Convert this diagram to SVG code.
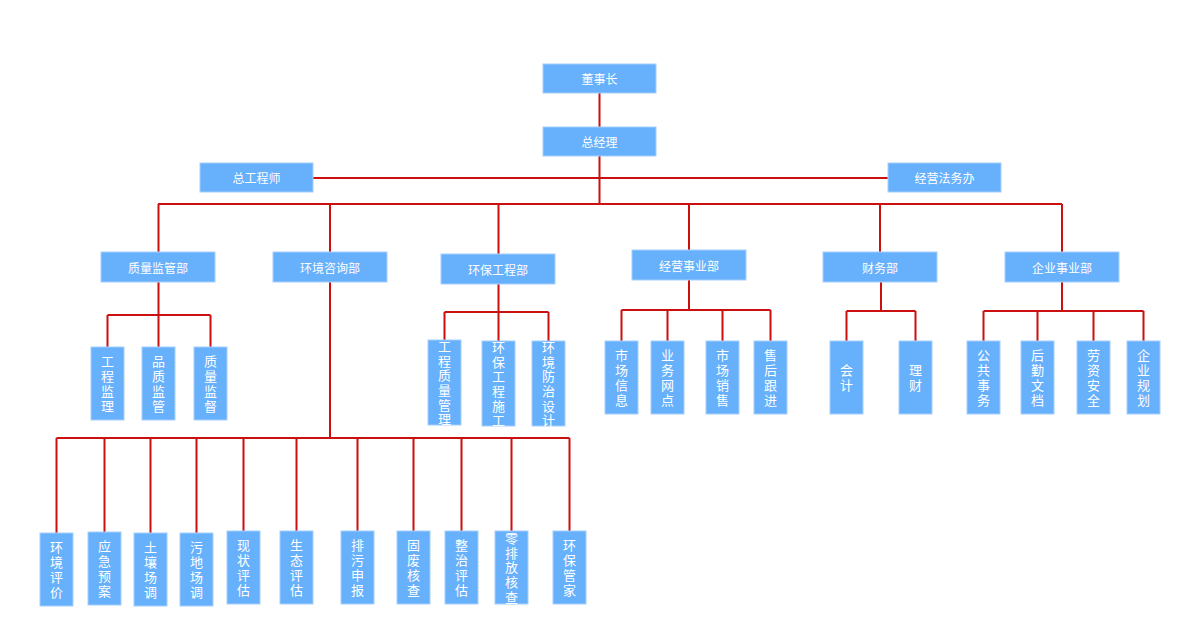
<svg xmlns="http://www.w3.org/2000/svg" width="1200" height="635" viewBox="0 0 1200 635">
<style>
.b{fill:#66b0fc;stroke:#a6d0fb;stroke-width:1}
.t{fill:#ffffff;font-family:"Noto Sans CJK SC","Noto Sans",sans-serif;font-size:12px;text-anchor:middle;dominant-baseline:central}
.v{fill:#ffffff;font-family:"Noto Sans CJK SC","Noto Sans",sans-serif;font-size:13px;text-anchor:middle;writing-mode:vertical-rl;letter-spacing:1.7px}
.c{fill:none;stroke:#cc0f0f;stroke-width:2}
</style>
<rect width="1200" height="635" fill="#ffffff"/>
<g id="connectors" class="c">
<path d="M599.5 93V127M599.5 156V204M313 178H888M158 204H1062"/>
<path d="M158.5 204V252M330 204V252M498.5 204V254M689 204V250M880 204V252M1062 204V252"/>
<path d="M158.5 282V347M107.5 315H210.5M107.5 315V347M210.5 315V347"/>
<path d="M498.5 284V341M444.5 312H548.5M444.5 312V340M548.5 312V341"/>
<path d="M689 280V310M621.5 310H770.5M621.5 310V341M667.5 310V341M722.5 310V341M770.5 310V341"/>
<path d="M881 282V311M846.5 311H915.5M846.5 311V341M915.5 311V341"/>
<path d="M1062 282V311M983.5 311H1143.5M983.5 311V341M1037.5 311V341M1093.5 311V341M1143.5 311V341"/>
<path d="M330 282V438M56.5 438H569.5M56.5 438V533M104.5 438V532M150.5 438V533M196.5 438V533M243.5 438V531M296.5 438V531M357.5 438V531M413.5 438V531M461.5 438V531M511.5 438V531M569.5 438V531"/>
</g>
<g id="n-dongshizhang"><rect class="b" x="543" y="64" width="113" height="29"/><text class="t" x="599.5" y="78.5">董事长</text></g>
<g id="n-zongjingli"><rect class="b" x="543" y="127" width="113" height="29"/><text class="t" x="599.5" y="141.5">总经理</text></g>
<g id="n-zonggongchengshi"><rect class="b" x="200" y="163" width="113" height="29"/><text class="t" x="256.5" y="177.5">总工程师</text></g>
<g id="n-jingyingfawuban"><rect class="b" x="888" y="163" width="113" height="29"/><text class="t" x="944.5" y="177.5">经营法务办</text></g>
<g id="n-zhiliangjianguanbu"><rect class="b" x="101" y="252" width="114" height="30"/><text class="t" x="158" y="267">质量监管部</text></g>
<g id="n-huanjingzixunbu"><rect class="b" x="273" y="252" width="114" height="30"/><text class="t" x="330" y="267">环境咨询部</text></g>
<g id="n-huanbaogongchengbu"><rect class="b" x="441" y="254" width="114" height="30"/><text class="t" x="498" y="269">环保工程部</text></g>
<g id="n-jingyingshiyebu"><rect class="b" x="632" y="250" width="114" height="30"/><text class="t" x="689" y="265">经营事业部</text></g>
<g id="n-caiwubu"><rect class="b" x="823" y="252" width="114" height="30"/><text class="t" x="880" y="267">财务部</text></g>
<g id="n-qiyeshiyebu"><rect class="b" x="1005" y="252" width="114" height="30"/><text class="t" x="1062" y="267">企业事业部</text></g>

<g id="n-gcjl"><rect class="b" x="91" y="347" width="33" height="73"/><text class="v" x="107.5" y="384.4">工程监理</text></g>
<g id="n-pzjg"><rect class="b" x="142" y="347" width="33" height="73"/><text class="v" x="158.5" y="384.4">品质监管</text></g>
<g id="n-zljd"><rect class="b" x="194" y="347" width="33" height="73"/><text class="v" x="210.5" y="384.4">质量监督</text></g>

<g id="n-gczlgl"><rect class="b" x="428" y="340" width="33" height="85"/><text class="v" x="444.5" y="383.6">工程质量管理</text></g>
<g id="n-hbgcsg"><rect class="b" x="482" y="341" width="33" height="85"/><text class="v" x="498.5" y="384.6">环保工程施工</text></g>
<g id="n-hjfzsj"><rect class="b" x="532" y="341" width="33" height="85"/><text class="v" x="548.5" y="384.6">环境防治设计</text></g>

<g id="n-scxx"><rect class="b" x="605" y="341" width="33" height="73"/><text class="v" x="621.5" y="378.4">市场信息</text></g>
<g id="n-ywwd"><rect class="b" x="651" y="341" width="33" height="73"/><text class="v" x="667.5" y="378.4">业务网点</text></g>
<g id="n-scxs"><rect class="b" x="706" y="341" width="33" height="73"/><text class="v" x="722.5" y="378.4">市场销售</text></g>
<g id="n-shgj"><rect class="b" x="754" y="341" width="33" height="73"/><text class="v" x="770.5" y="378.4">售后跟进</text></g>

<g id="n-kuaiji"><rect class="b" x="830" y="341" width="33" height="73"/><text class="v" x="846.5" y="378.4">会计</text></g>
<g id="n-licai"><rect class="b" x="899" y="341" width="33" height="73"/><text class="v" x="915.5" y="378.4">理财</text></g>

<g id="n-ggsw"><rect class="b" x="967" y="341" width="33" height="73"/><text class="v" x="983.5" y="378.4">公共事务</text></g>
<g id="n-hqwd"><rect class="b" x="1021" y="341" width="33" height="73"/><text class="v" x="1037.5" y="378.4">后勤文档</text></g>
<g id="n-lzaq"><rect class="b" x="1077" y="341" width="33" height="73"/><text class="v" x="1093.5" y="378.4">劳资安全</text></g>
<g id="n-qygh"><rect class="b" x="1127" y="341" width="33" height="73"/><text class="v" x="1143.5" y="378.4">企业规划</text></g>

<g id="n-hjpj"><rect class="b" x="40" y="533" width="33" height="73"/><text class="v" x="56.5" y="570.4">环境评价</text></g>
<g id="n-yjya"><rect class="b" x="88" y="532" width="33" height="73"/><text class="v" x="104.5" y="569.4">应急预案</text></g>
<g id="n-trcd"><rect class="b" x="134" y="533" width="33" height="73"/><text class="v" x="150.5" y="570.4">土壤场调</text></g>
<g id="n-wdcd"><rect class="b" x="180" y="533" width="33" height="73"/><text class="v" x="196.5" y="570.4">污地场调</text></g>
<g id="n-xzpg"><rect class="b" x="227" y="531" width="33" height="73"/><text class="v" x="243.5" y="568.4">现状评估</text></g>
<g id="n-stpg"><rect class="b" x="280" y="531" width="33" height="73"/><text class="v" x="296.5" y="568.4">生态评估</text></g>
<g id="n-pwsb"><rect class="b" x="341" y="531" width="33" height="73"/><text class="v" x="357.5" y="568.4">排污申报</text></g>
<g id="n-gfhc"><rect class="b" x="397" y="531" width="33" height="73"/><text class="v" x="413.5" y="568.4">固废核查</text></g>
<g id="n-zzpg"><rect class="b" x="445" y="531" width="33" height="73"/><text class="v" x="461.5" y="568.4">整治评估</text></g>
<g id="n-lpfhc"><rect class="b" x="495" y="531" width="33" height="73"/><text class="v" x="511.5" y="568.4">零排放核查</text></g>
<g id="n-hbgj"><rect class="b" x="553" y="531" width="33" height="73"/><text class="v" x="569.5" y="568.4">环保管家</text></g>
</svg>
